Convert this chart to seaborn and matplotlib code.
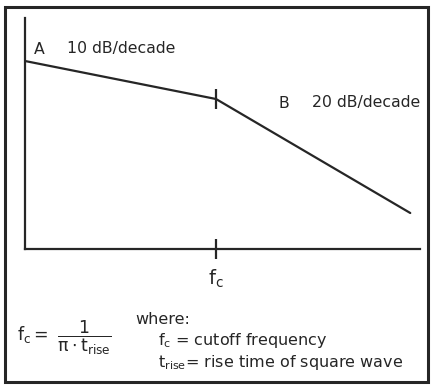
import matplotlib
matplotlib.use("Agg")
import matplotlib.pyplot as plt
from matplotlib.patches import Rectangle
import seaborn as sns
import pandas as pd

# Asymptotic response: frequency (log scale) vs. relative level (dB)
freq = [1.0, 10.0, 104.0]
level_db = [0.0, -10.0, -40.0]
corner_freq = 10.0
corner_level = -10.0

slope_a_label = "10 dB/decade"
slope_b_label = "20 dB/decade"

sns.set_style("white")
plt.rcParams["font.family"] = ["DejaVu Sans"]
plt.rcParams["mathtext.default"] = "regular"

W, H = 432, 385
fig = plt.figure(figsize=(W / 100, H / 100), dpi=100)
ax = fig.add_axes([25 / W, 1 - 249 / H, (420 - 25) / W, (249 - 18) / H])

ink = "#262626"
df = pd.DataFrame({"freq": freq, "level": level_db})
sns.lineplot(data=df, x="freq", y="level", ax=ax, color=ink, linewidth=1.6)

ax.set_xscale("log")
ax.set_xlim(1.0, 10 ** ((420 - 25) / 191))
ax.set_ylim(-((249 - 61) / 3.8), (61 - 18) / 3.8)

# Break marker at the corner
ax.plot([corner_freq, corner_freq], [corner_level + 2.6, corner_level - 2.6],
        color=ink, linewidth=1.6, solid_capstyle="butt")

for side in ("top", "right"):
    ax.spines[side].set_visible(False)
for side in ("left", "bottom"):
    ax.spines[side].set_color(ink)
    ax.spines[side].set_linewidth(1.6)

ax.set_yticks([])
ax.xaxis.set_minor_locator(matplotlib.ticker.NullLocator())
ax.set_xticks([corner_freq])
ax.set_xticklabels([r"$f_c$"], fontsize=14)
ax.tick_params(axis="x", which="major", bottom=True, direction="inout",
               length=15, width=1.6, color=ink, pad=6, labelcolor=ink)
ax.set_xlabel("")
ax.set_ylabel("")

# Segment annotations
fs = 11.3
fig.text(34 / W, 1 - 49 / H, "A", fontsize=fs, color=ink, va="center")
fig.text(67 / W, 1 - 49 / H, slope_a_label, fontsize=fs, color=ink, va="center")
fig.text(279 / W, 1 - 103 / H, "B", fontsize=fs, color=ink, va="center")
fig.text(312 / W, 1 - 103 / H, slope_b_label, fontsize=fs, color=ink, va="center")

# Cutoff formula and legend of symbols
fig.text(17 / W, 1 - 338 / H, r"$f_c =\ \dfrac{1}{\pi \cdot t_{rise}}$",
         fontsize=12.5, color=ink, va="center")
fig.text(135 / W, 1 - 319 / H, "where:", fontsize=11.5, color=ink, va="center")
fig.text(158 / W, 1 - 341 / H, r"$f_c$ = cutoff frequency", fontsize=11.5,
         color=ink, va="center")
fig.text(158 / W, 1 - 363 / H, r"$t_{rise}$= rise time of square wave",
         fontsize=11.5, color=ink, va="center")

# Outer frame
fig.patches.append(Rectangle((5 / W, 1 - 382 / H), (428 - 5) / W, (382 - 7) / H,
                             transform=fig.transFigure, fill=False,
                             edgecolor=ink, linewidth=2.2))

fig.savefig("out.png", dpi=100)
